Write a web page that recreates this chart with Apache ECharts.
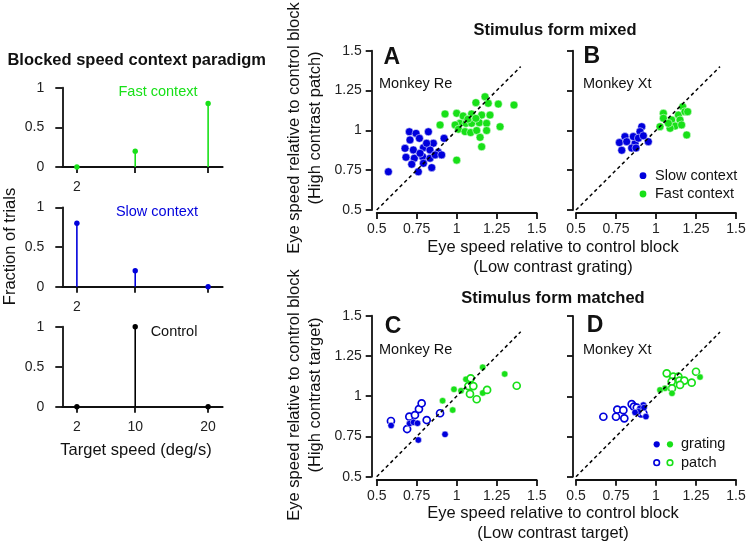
<!DOCTYPE html>
<html><head><meta charset="utf-8">
<script src="https://cdn.jsdelivr.net/npm/echarts@6/dist/echarts.min.js"></script>
<style>html,body{margin:0;padding:0;background:#fff}#c{width:746px;height:543px}</style>
</head><body><div id="c"></div>
<script>
// ---------- data ----------
const speeds = [2, 10, 20];
const fastFrac = [0, 0.2, 0.8];
const slowFrac = [0.8, 0.2, 0];
const controlFrac = [0, 1, 0];
const speedTicks = [2, 10, 20];
const identityLine = [[0.5, 0.5], [1.4, 1.4]];

const aSlow = [[0.704,0.991],[0.746,0.981],[0.823,0.991],[0.767,0.950],[0.854,0.919],[0.921,0.950],[0.677,0.887],[0.729,0.877],[0.792,0.891],[0.833,0.877],[0.885,0.862],[0.683,0.831],[0.735,0.825],[0.787,0.835],[0.833,0.825],[0.865,0.846],[0.906,0.846],[0.719,0.787],[0.792,0.793],[0.844,0.766],[0.760,0.740],[0.573,0.740],[0.771,0.856],[0.708,0.940],[0.812,0.919]];
const aFast = [[1.177,1.211],[1.12,1.174],[1.197,1.170],[1.26,1.165],[1.358,1.159],[0.927,1.103],[1.0,1.107],[1.04,1.09],[1.093,1.103],[1.156,1.096],[1.208,1.096],[1.02,1.044],[1.058,1.044],[1.093,1.044],[1.141,1.048],[1.187,1.044],[0.896,1.034],[0.99,1.034],[1.011,1.007],[1.052,0.992],[1.087,0.986],[1.125,0.999],[1.187,0.999],[1.271,1.023],[1.146,0.956],[1.156,0.897],[1.0,0.813],[1.07,1.07],[1.12,1.075]];
const bSlow = [[0.911,1.023],[0.900,0.992],[0.806,0.961],[0.771,0.923],[0.817,0.929],[0.869,0.918],[0.858,0.961],[0.890,0.951],[0.952,0.929],[0.786,0.875],[0.848,0.889],[0.875,0.889],[0.921,0.966]];
const bFast = [[1.167,1.148],[1.046,1.107],[1.14,1.096],[1.181,1.117],[1.098,1.065],[1.15,1.065],[1.046,1.076],[1.025,1.023],[1.119,1.027],[1.16,1.034],[1.088,1.013],[1.192,0.971],[1.077,1.044],[1.198,1.117]];
const cSlowPatch = [[0.589,0.846],[0.704,0.873],[0.739,0.883],[0.764,0.92],[0.781,0.956],[0.8125,0.852],[0.896,0.894],[0.69,0.796]];
const cSlowGrating = [[0.59,0.818],[0.705,0.83],[0.73,0.838],[0.755,0.832],[0.76,0.728],[0.927,0.763]];
const cFastGrating = [[0.912,0.972],[0.975,0.914],[0.983,1.043],[1.027,1.034],[1.058,1.105],[1.1625,1.18],[1.30,1.138],[1.1625,1.02]];
const cFastPatch = [[1.0875,1.111],[1.073,1.063],[1.104,1.063],[1.083,1.014],[1.125,0.981],[1.19,1.039],[1.375,1.065]];
const dSlowPatch = [[0.671,0.873],[0.758,0.918],[0.796,0.914],[0.75,0.873],[0.802,0.863],[0.848,0.952],[0.862,0.936],[0.906,0.894],[0.921,0.895],[0.88,0.93]];
const dSlowGrating = [[0.921,0.946],[0.9,0.926],[0.89,0.905],[0.937,0.874],[0.869,0.9],[0.925,0.93]];
const dFastPatch = [[1.067,1.143],[1.108,1.123],[1.14,1.123],[1.25,1.153],[1.098,1.092],[1.146,1.098],[1.177,1.098],[1.223,1.085],[1.15,1.071],[1.1,1.05]];
const dFastGrating = [[1.275,1.12],[1.056,1.05],[1.025,1.04],[1.1,1.019]];

// ---------- styling ----------
const BLUE = '#0000dc';
const GREEN = '#18e018';
const FONT = '"Liberation Sans", Arial, Helvetica, sans-serif';
const AX = '#111';

const grids = [], xAxes = [], yAxes = [], series = [];

function stemPanel(top, height, xOff, labels, vals, color) {
  const i = grids.length;
  grids.push({left: 62.3, width: 160.4, top: top, height: height, outerBoundsMode: 'none', containLabel: false});
  xAxes.push({type: 'value', gridIndex: i, min: 0, max: 22, offset: xOff,
    axisLine: {lineStyle: {color: AX, width: 1.8}},
    axisTick: {customValues: speedTicks, length: 6, lineStyle: {color: AX, width: 1.8}},
    axisLabel: {customValues: labels, margin: 11, color: '#222', fontSize: 14, fontFamily: FONT},
    splitLine: {show: false}});
  yAxes.push({type: 'value', gridIndex: i, min: 0, max: 1, interval: 0.5, offset: 4,
    axisLine: {show: true, lineStyle: {color: AX, width: 1.8}},
    axisTick: {show: true, length: 7, lineStyle: {color: AX, width: 1.8}},
    axisLabel: {margin: 14, color: '#222', fontSize: 14, fontFamily: FONT},
    splitLine: {show: false}});
  series.push({type: 'custom', xAxisIndex: i, yAxisIndex: i, silent: true, clip: false,
    data: speeds.map((s, k) => [s, vals[k]]),
    renderItem: function (params, api) {
      const x = api.value(0), y = api.value(1);
      const p0 = api.coord([x, 0]), p1 = api.coord([x, y]);
      return {type: 'group', children: [
        {type: 'line', shape: {x1: p0[0], y1: p0[1], x2: p1[0], y2: p1[1]}, style: {stroke: color, lineWidth: 1.6}},
        {type: 'circle', shape: {cx: p1[0], cy: p1[1], r: 2.7}, style: {fill: color}}
      ]};
    }});
}

function scatterPanel(left, top, height, yOff, xOff, showYLabels) {
  const i = grids.length;
  grids.push({left: left, top: top, width: 160, height: height, outerBoundsMode: 'none', containLabel: false});
  xAxes.push({type: 'value', gridIndex: i, min: 0.5, max: 1.5, interval: 0.25, offset: xOff,
    axisLine: {lineStyle: {color: AX, width: 1.8}},
    axisTick: {length: 6, lineStyle: {color: AX, width: 1.8}},
    axisLabel: {margin: 9, color: '#222', fontSize: 14, fontFamily: FONT, showMinLabel: true, showMaxLabel: true},
    splitLine: {show: false}});
  yAxes.push({type: 'value', gridIndex: i, min: 0.5, max: 1.5, interval: 0.25, offset: yOff,
    axisLine: {show: true, lineStyle: {color: AX, width: 1.8}},
    axisTick: {show: true, length: 6, lineStyle: {color: AX, width: 1.8}},
    axisLabel: {show: showYLabels, margin: 10, color: '#222', fontSize: 14, fontFamily: FONT, showMinLabel: true, showMaxLabel: true},
    splitLine: {show: false}});
  series.push({type: 'line', xAxisIndex: i, yAxisIndex: i, data: identityLine, symbol: 'none', silent: true,
    lineStyle: {color: '#000', width: 1.5, type: [3.5, 3]}});
  return i;
}

function dots(i, data, color, size) {
  series.push({type: 'scatter', xAxisIndex: i, yAxisIndex: i, data: data, symbol: 'circle', symbolSize: size, silent: true,
    itemStyle: {color: color, borderColor: '#fff', borderWidth: 0.5, opacity: 1}});
}
function rings(i, data, color, size) {
  series.push({type: 'scatter', xAxisIndex: i, yAxisIndex: i, data: data, symbol: 'circle', symbolSize: size, silent: true,
    itemStyle: {color: '#fff', borderColor: color, borderWidth: 1.7, opacity: 1}});
}

// left stem panels
stemPanel(87.7, 79.3, 2.3, [2], fastFrac, GREEN);
stemPanel(207.3, 79.4, 2.6, [2], slowFrac, BLUE);
stemPanel(326.7, 80, 2.3, speedTicks, controlFrac, '#000');

// scatter panels
const gA = scatterPanel(376.7, 50.7, 159.3, 5, 3, true);
dots(gA, aSlow, BLUE, 8); dots(gA, aFast, GREEN, 8);
const gB = scatterPanel(576, 50.7, 159.3, 3, 3, false);
dots(gB, bSlow, BLUE, 8); dots(gB, bFast, GREEN, 8);
const gC = scatterPanel(376.7, 315.7, 161, 5, 3.3, true);
rings(gC, cSlowPatch, BLUE, 7); dots(gC, cSlowGrating, BLUE, 6.5);
dots(gC, cFastGrating, GREEN, 6.5); rings(gC, cFastPatch, GREEN, 7);
const gD = scatterPanel(576, 316, 160.7, 3, 3, false);
rings(gD, dSlowPatch, BLUE, 7); dots(gD, dSlowGrating, BLUE, 6.5);
rings(gD, dFastPatch, GREEN, 7); dots(gD, dFastGrating, GREEN, 6.5);

// ---------- text ----------
function txt(s, x, y, size, opts) {
  opts = opts || {};
  return {type: 'text', x: x, y: y, rotation: opts.rot || 0, silent: true, z: 100,
    style: {text: s, fill: opts.color || '#111', font: (opts.bold ? 'bold ' : '') + size + 'px ' + FONT,
      textAlign: opts.align || 'center', textVerticalAlign: 'middle', verticalAlign: 'middle'}};
}
const R = Math.PI / 2;
const graphics = [
  txt('Blocked speed context paradigm', 136.7, 60, 16.5, {bold: true}),
  txt('Fast context', 158, 92, 14.5, {color: GREEN}),
  txt('Slow context', 157, 212, 14.5, {color: BLUE}),
  txt('Control', 174, 332, 14.5),
  txt('Fraction of trials', 10, 246.5, 16.5, {rot: R}),
  txt('Target speed (deg/s)', 136, 450, 16.5),
  txt('Stimulus form mixed', 555, 30, 16.5, {bold: true}),
  txt('Stimulus form matched', 553, 298.5, 16.5, {bold: true}),
  txt('A', 391.7, 58, 23, {bold: true}),
  txt('B', 591.7, 57, 23, {bold: true}),
  txt('C', 393, 326.7, 23, {bold: true}),
  txt('D', 595, 325.5, 23, {bold: true}),
  txt('Monkey Re', 379, 83.5, 14.5, {align: 'left'}),
  txt('Monkey Xt', 583, 83.5, 14.5, {align: 'left'}),
  txt('Monkey Re', 379, 350, 14.5, {align: 'left'}),
  txt('Monkey Xt', 583, 350, 14.5, {align: 'left'}),
  txt('Eye speed relative to control block', 553, 247.5, 16.5),
  txt('(Low contrast grating)', 553, 267.5, 16.5),
  txt('Eye speed relative to control block', 553, 513.5, 16.5),
  txt('(Low contrast target)', 553, 533.5, 16.5),
  txt('Eye speed relative to control block', 294, 128, 16.5, {rot: R}),
  txt('(High contrast patch)', 315, 128, 16.5, {rot: R}),
  txt('Eye speed relative to control block', 294, 395, 16.5, {rot: R}),
  txt('(High contrast target)', 315, 395, 16.5, {rot: R}),
  // legend B
  {type: 'circle', shape: {cx: 643, cy: 175.7, r: 3.4}, style: {fill: BLUE}, silent: true},
  txt('Slow context', 655, 175.7, 14.5, {align: 'left'}),
  {type: 'circle', shape: {cx: 643, cy: 194, r: 3.4}, style: {fill: GREEN}, silent: true},
  txt('Fast context', 655, 194, 14.5, {align: 'left'}),
  // legend D
  {type: 'circle', shape: {cx: 656.7, cy: 444.3, r: 3.1}, style: {fill: BLUE}, silent: true},
  {type: 'circle', shape: {cx: 670, cy: 444.3, r: 3.1}, style: {fill: GREEN}, silent: true},
  txt('grating', 681, 444.3, 14.5, {align: 'left'}),
  {type: 'circle', shape: {cx: 656.7, cy: 462.7, r: 2.8}, style: {fill: '#fff', stroke: BLUE, lineWidth: 1.6}, silent: true},
  {type: 'circle', shape: {cx: 670, cy: 462.7, r: 2.8}, style: {fill: '#fff', stroke: GREEN, lineWidth: 1.6}, silent: true},
  txt('patch', 681, 462.7, 14.5, {align: 'left'})
];

const chart = echarts.init(document.getElementById('c'), null, {renderer: 'canvas'});
chart.setOption({
  backgroundColor: '#fff',
  animation: false,
  textStyle: {fontFamily: FONT},
  grid: grids, xAxis: xAxes, yAxis: yAxes, series: series,
  graphic: graphics
});
</script>
</body></html>
